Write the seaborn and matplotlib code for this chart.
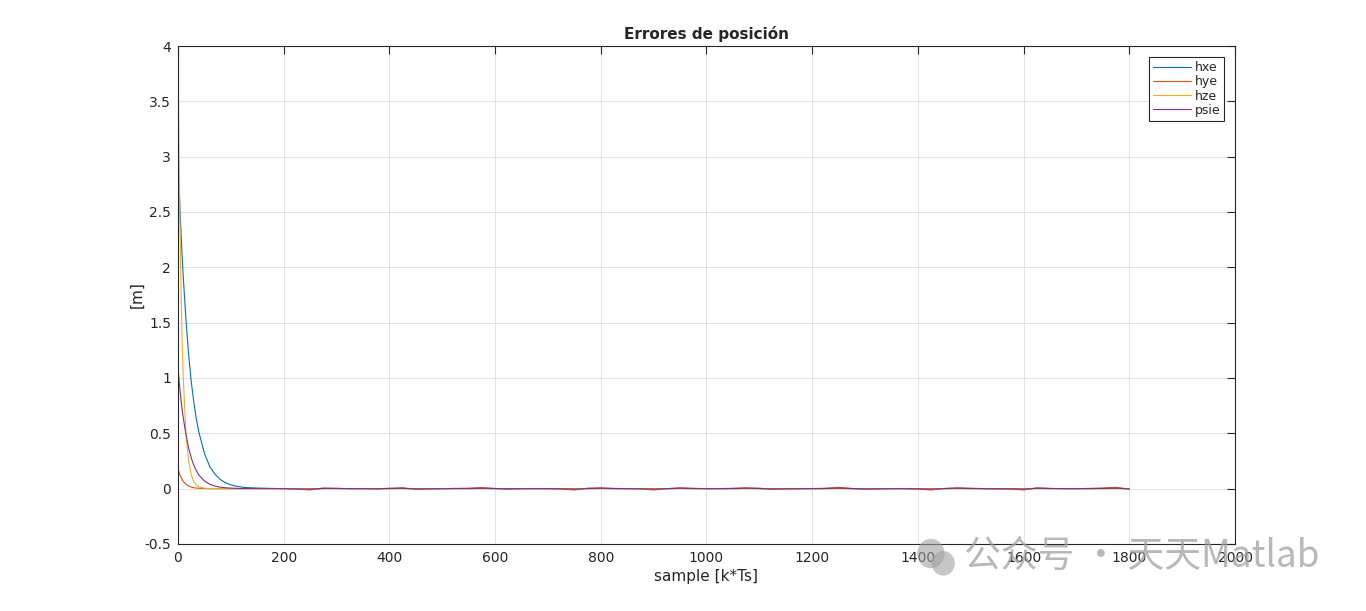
import numpy as np
import pandas as pd
import seaborn as sns
import matplotlib.pyplot as plt
from matplotlib.patches import Ellipse

# sample index (k) and values
k_early = [0, 2, 4, 6, 8, 10, 15, 20, 25, 30, 35, 40, 50, 60, 70, 80, 90, 100, 110, 125]
k_tail = list(range(150, 1801, 25))

hxe_early = [3.0, 2.75, 2.5, 2.29, 2.09, 1.91, 1.53, 1.22, 0.97, 0.78, 0.62, 0.5, 0.32, 0.20,
             0.13, 0.083, 0.053, 0.034, 0.022, 0.011]
hye_early = [0.18, 0.15, 0.12, 0.1, 0.08, 0.065, 0.04, 0.024, 0.014, 0.008, 0.005, 0.003, 0.001,
             0.0, 0.0, 0.0, 0.0, 0.0, 0.0, 0.001]
hze_early = [4.0, 3.0, 2.3, 1.75, 1.32, 1.0, 0.5, 0.25, 0.125, 0.062, 0.032, 0.016, 0.004, 0.001,
             0.0, 0.0, 0.0, 0.0, 0.0, 0.0]
psie_early = [1.1, 0.98, 0.88, 0.79, 0.71, 0.64, 0.49, 0.37, 0.28, 0.21, 0.16, 0.12, 0.07, 0.04,
              0.023, 0.013, 0.008, 0.005, 0.003, 0.001]

hxe_tail = [0.005, 0.002, 0.0, -0.001, -0.002, 0.001, 0.002, 0.0, 0.0, -0.001, 0.001, 0.002,
            -0.002, -0.001, 0.0, 0.001, 0.001, 0.003, 0.0, -0.002, 0.0, 0.0, 0.0, -0.001,
            -0.003, 0.001, 0.002, 0.0, 0.0, -0.001, -0.003, 0.0, 0.002, 0.001, 0.0, 0.0,
            0.001, 0.002, 0.001, -0.002, -0.001, 0.0, 0.0, 0.001, 0.003, 0.0, -0.002, -0.001,
            0.0, 0.0, -0.001, -0.003, 0.0, 0.002, 0.001, 0.0, -0.001, -0.001, -0.003, 0.002,
            0.001, 0.0, 0.0, 0.0, 0.001, 0.003, -0.001]
hye_tail = [0.002, 0.001, 0.0, -0.004, -0.012, 0.006, 0.003, 0.0, 0.0, -0.002, 0.004, 0.008,
            -0.006, -0.002, 0.0, 0.002, 0.004, 0.010, 0.002, -0.004, 0.0, 0.001, 0.0, -0.003,
            -0.012, 0.004, 0.008, 0.002, 0.0, -0.002, -0.012, 0.0, 0.008, 0.003, 0.0, 0.001,
            0.003, 0.008, 0.004, -0.006, -0.002, 0.0, 0.001, 0.004, 0.012, 0.002, -0.006, -0.002,
            0.0, 0.001, -0.004, -0.012, 0.002, 0.008, 0.004, 0.0, -0.002, -0.004, -0.012, 0.008,
            0.003, 0.0, 0.0, 0.002, 0.006, 0.012, -0.004]
hze_tail = [0.0] * len(k_tail)
psie_tail = [0.0, 0.0, 0.0, -0.002, -0.004, 0.002, 0.001, 0.0, 0.0, -0.001, 0.001, 0.003,
             -0.002, -0.001, 0.0, 0.001, 0.001, 0.003, 0.001, -0.001, 0.0, 0.0, 0.0, -0.001,
             -0.004, 0.001, 0.003, 0.001, 0.0, -0.001, -0.004, 0.0, 0.003, 0.001, 0.0, 0.0,
             0.001, 0.003, 0.001, -0.002, -0.001, 0.0, 0.0, 0.001, 0.004, 0.001, -0.002, -0.001,
             0.0, 0.0, -0.001, -0.004, 0.001, 0.003, 0.001, 0.0, -0.001, -0.001, -0.004, 0.003,
             0.001, 0.0, 0.0, 0.001, 0.002, 0.004, -0.002]

series = ['hxe', 'hye', 'hze', 'psie']
colors = ['#0072BD', '#D95319', '#EDB120', '#7E2F8E']

k_all = k_early + k_tail
df = pd.concat([
    pd.DataFrame({'k': k_all, 'value': e + t, 'serie': name})
    for name, e, t in [('hxe', hxe_early, hxe_tail), ('hye', hye_early, hye_tail),
                       ('hze', hze_early, hze_tail), ('psie', psie_early, psie_tail)]
])

sns.set_style('white')
plt.rcParams['font.family'] = ['DejaVu Sans', 'Noto Sans CJK SC']

fig = plt.figure(figsize=(13.66, 6.11), dpi=100)
ax = fig.add_axes([0.1303, 0.1097, 0.7738, 0.815])

sns.lineplot(data=df, x='k', y='value', hue='serie', hue_order=series,
             palette=dict(zip(series, colors)), linewidth=0.8, ax=ax, sort=False)

ax.set_xlim(0, 2000)
ax.set_ylim(-0.5, 4)
ax.set_xticks(range(0, 2001, 200))
yt = np.arange(-0.5, 4.01, 0.5)
ax.set_yticks(yt)
ax.set_yticklabels([f'{v:g}' for v in yt])
ax.grid(True, color='#e3e3e3', linewidth=0.7)
ax.set_axisbelow(True)
ax.tick_params(direction='in', length=6, width=0.8, top=True, right=True,
               labelsize=10, colors='#262626', pad=5)
for s in ax.spines.values():
    s.set_color('#262626')
    s.set_linewidth(0.8)

ax.set_xlabel('sample [k*Ts]', fontsize=11, color='#262626', labelpad=3)
ax.set_ylabel('[m]', fontsize=11, color='#262626', labelpad=0)
ax.set_title('Errores de posición', fontsize=11, fontweight='bold', pad=5)

leg = ax.legend(loc='upper right', fontsize=9, frameon=True, fancybox=False,
                edgecolor='#262626', framealpha=1, borderpad=0.3, labelspacing=0.1,
                handlelength=3.0, handletextpad=0.3, borderaxespad=0.9)
leg.get_frame().set_linewidth(0.8)

# watermark (semi-transparent, drawn over the axes like the original)
fig.patches.append(Ellipse((0.6815, 0.094), 0.02, 0.048, transform=fig.transFigure,
                           color='#a0a0a0', alpha=0.6, lw=0, zorder=5))
fig.patches.append(Ellipse((0.6905, 0.078), 0.017, 0.04, transform=fig.transFigure,
                           color='#a0a0a0', alpha=0.6, lw=0, zorder=5))
fig.text(0.706, 0.09, '公众号 · 天天Matlab', fontsize=26.5, color='#a0a0a0', alpha=0.75,
         family=['Noto Sans CJK SC', 'DejaVu Sans'], va='center', ha='left', zorder=6)

fig.savefig('out.png', dpi=100)
